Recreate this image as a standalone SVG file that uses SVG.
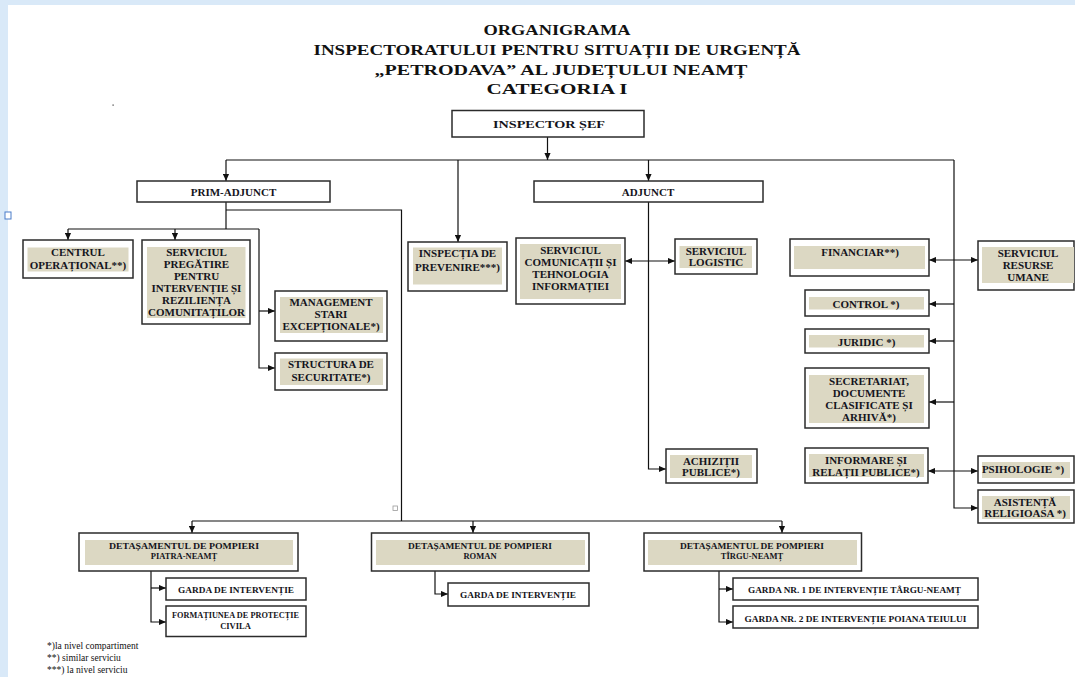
<svg xmlns="http://www.w3.org/2000/svg" width="1075" height="677" viewBox="0 0 1075 677">
<style>
.bx{fill:#fff;stroke:#2b2b2b;stroke-width:1.5}
.sh{fill:#dcd8c3}
.t{font-family:"Liberation Serif","Times New Roman",serif;font-weight:bold;font-size:11px;fill:#141420;text-anchor:middle}
.s{font-family:"Liberation Serif","Times New Roman",serif;font-weight:bold;font-size:8.5px;fill:#141420;text-anchor:middle}
.ti{font-family:"Liberation Serif","Times New Roman",serif;font-weight:bold;font-size:15px;fill:#111;text-anchor:middle}
.fn{font-family:"Liberation Serif","Times New Roman",serif;font-size:9.5px;fill:#111}
.c{fill:none;stroke:#111;stroke-width:1.2}
</style>
<defs>
<marker id="a" viewBox="0 0 8 8" refX="8" refY="4" markerWidth="7" markerHeight="7" markerUnits="userSpaceOnUse" orient="auto-start-reverse"><path d="M0,0.5 L8,4 L0,7.5 z" fill="#111"/></marker>
</defs>
<rect x="0" y="0" width="1075" height="677" fill="#d9e9f8"/>
<rect x="8" y="5" width="1067" height="672" fill="#fff"/>
<rect x="5" y="212" width="6" height="7" fill="#fff" stroke="#4a7cc9" stroke-width="1"/>
<rect x="112.5" y="104.5" width="1.2" height="1.2" fill="#333"/>
<rect x="393" y="506" width="4.5" height="4.5" fill="#fff" stroke="#999" stroke-width="0.8"/>

<g id="title">
<text class="ti" x="557" y="35" textLength="147" lengthAdjust="spacingAndGlyphs">ORGANIGRAMA</text>
<text class="ti" x="557" y="55" textLength="487" lengthAdjust="spacingAndGlyphs">INSPECTORATULUI PENTRU SITUAȚII DE URGENȚĂ</text>
<text class="ti" x="561" y="75" textLength="373" lengthAdjust="spacingAndGlyphs">„PETRODAVA” AL JUDEȚULUI NEAMȚ</text>
<text class="ti" x="557" y="94" textLength="141" lengthAdjust="spacingAndGlyphs">CATEGORIA I</text>
</g>

<g id="connectors">
<path class="c" d="M547.5,137 V160" marker-end="url(#a)"/>
<path class="c" d="M226,160 H954"/>
<path class="c" d="M226,160 V181" marker-end="url(#a)"/>
<path class="c" d="M458,160 V242" marker-end="url(#a)"/>
<path class="c" d="M648.5,160 V181" marker-end="url(#a)"/>
<path class="c" d="M954,160 V508 H978" marker-end="url(#a)"/>
<path class="c" d="M226,202 V229"/>
<path class="c" d="M68,229 H259"/>
<path class="c" d="M68,229 V240" marker-end="url(#a)"/>
<path class="c" d="M175,229 V240" marker-end="url(#a)"/>
<path class="c" d="M259,229 V368 H275" marker-end="url(#a)"/>
<path class="c" d="M259,311 H275" marker-end="url(#a)"/>
<path class="c" d="M226,210 H401.5 V521"/>
<path class="c" d="M192,521 H782"/>
<path class="c" d="M192,521 V533" marker-end="url(#a)"/>
<path class="c" d="M473,521 V533" marker-end="url(#a)"/>
<path class="c" d="M782,521 V533" marker-end="url(#a)"/>
<path class="c" d="M151,571 V622 H166" marker-end="url(#a)"/>
<path class="c" d="M151,588 H166" marker-end="url(#a)"/>
<path class="c" d="M435,571 V594 H448" marker-end="url(#a)"/>
<path class="c" d="M719,571 V622 H733" marker-end="url(#a)"/>
<path class="c" d="M719,589 H733" marker-end="url(#a)"/>
<path class="c" d="M648.5,202 V469 H666" marker-end="url(#a)"/>
<path class="c" d="M625,261 H675" marker-start="url(#a)" marker-end="url(#a)"/>
<path class="c" d="M929,260 H978" marker-start="url(#a)" marker-end="url(#a)"/>
<path class="c" d="M954,304 H929" marker-end="url(#a)"/>
<path class="c" d="M954,341 H929" marker-end="url(#a)"/>
<path class="c" d="M954,402 H929" marker-end="url(#a)"/>
<path class="c" d="M928,471 H978" marker-start="url(#a)" marker-end="url(#a)"/>
</g>

<g id="inspector-sef">
<rect class="bx" x="452" y="110.5" width="192" height="26.5"/>
<text class="t" x="549" y="128" font-size="13" textLength="112" lengthAdjust="spacingAndGlyphs">INSPECTOR ȘEF</text>
</g>
<g id="prim-adjunct">
<rect class="bx" x="137" y="181" width="193" height="21"/>
<text class="t" x="233.5" y="196">PRIM-ADJUNCT</text>
</g>
<g id="adjunct">
<rect class="bx" x="534" y="181" width="229" height="21"/>
<text class="t" x="648" y="196">ADJUNCT</text>
</g>
<g id="centrul-operational">
<rect class="bx" x="23" y="240" width="110" height="38"/>
<rect class="sh" x="27.5" y="247.5" width="101" height="24"/>
<text class="t" x="78" y="256">CENTRUL</text>
<text class="t" x="78" y="269">OPERAȚIONAL**)</text>
</g>
<g id="serviciul-pregatire">
<rect class="bx" x="142" y="240" width="108" height="84"/>
<rect class="sh" x="147" y="247" width="98.5" height="71"/>
<text class="t" x="196.5" y="256">SERVICIUL</text>
<text class="t" x="196.5" y="268">PREGĂTIRE</text>
<text class="t" x="196.5" y="280">PENTRU</text>
<text class="t" x="196.5" y="292">INTERVENȚIE ȘI</text>
<text class="t" x="196.5" y="304">REZILIENȚA</text>
<text class="t" x="196.5" y="316">COMUNITAȚILOR</text>
</g>
<g id="management">
<rect class="bx" x="275" y="291" width="112" height="50"/>
<rect class="sh" x="280" y="297" width="103" height="36"/>
<text class="t" x="331" y="306">MANAGEMENT</text>
<text class="t" x="331" y="318">STARI</text>
<text class="t" x="331" y="330">EXCEPȚIONALE*)</text>
</g>
<g id="structura-securitate">
<rect class="bx" x="275" y="353" width="112" height="37"/>
<rect class="sh" x="280" y="358.5" width="103" height="26.5"/>
<text class="t" x="331" y="368">STRUCTURA DE</text>
<text class="t" x="331" y="381">SECURITATE*)</text>
</g>
<g id="inspectia-prevenire">
<rect class="bx" x="408" y="242" width="99" height="49"/>
<rect class="sh" x="413" y="247.5" width="89" height="37"/>
<text class="t" x="457.5" y="257">INSPECȚIA DE</text>
<text class="t" x="457.5" y="271">PREVENIRE***)</text>
</g>
<g id="serviciul-comunicatii">
<rect class="bx" x="516" y="238" width="109" height="66"/>
<rect class="sh" x="520" y="244" width="101" height="55"/>
<text class="t" x="570.5" y="254">SERVICIUL</text>
<text class="t" x="570.5" y="265.5">COMUNICAȚII ȘI</text>
<text class="t" x="570.5" y="277.5">TEHNOLOGIA</text>
<text class="t" x="570.5" y="289.5">INFORMAȚIEI</text>
</g>
<g id="serviciul-logistic">
<rect class="bx" x="675" y="239" width="82" height="35"/>
<rect class="sh" x="679.5" y="246" width="72.5" height="22"/>
<text class="t" x="716" y="254.5">SERVICIUL</text>
<text class="t" x="716" y="266">LOGISTIC</text>
</g>
<g id="achizitii-publice">
<rect class="bx" x="666" y="449" width="91" height="34"/>
<rect class="sh" x="670" y="455" width="82" height="23"/>
<text class="t" x="711" y="464.5">ACHIZIȚII</text>
<text class="t" x="711" y="476">PUBLICE*)</text>
</g>
<g id="financiar">
<rect class="bx" x="790" y="239" width="139" height="37"/>
<rect class="sh" x="794" y="246" width="131" height="23"/>
<text class="t" x="860" y="256">FINANCIAR**)</text>
</g>
<g id="resurse-umane">
<rect class="bx" x="978" y="241" width="96" height="49"/>
<rect class="sh" x="982" y="247" width="92" height="36"/>
<text class="t" x="1028" y="256.5">SERVICIUL</text>
<text class="t" x="1028" y="268.5">RESURSE</text>
<text class="t" x="1028" y="280.5">UMANE</text>
</g>
<g id="control">
<rect class="bx" x="805" y="290" width="124" height="26"/>
<rect class="sh" x="809" y="297" width="115" height="12.5"/>
<text class="t" x="866" y="307.5">CONTROL *)</text>
</g>
<g id="juridic">
<rect class="bx" x="805" y="329" width="124" height="24"/>
<rect class="sh" x="809" y="335" width="115" height="12.5"/>
<text class="t" x="866.5" y="346">JURIDIC *)</text>
</g>
<g id="secretariat">
<rect class="bx" x="805" y="368" width="124" height="60"/>
<rect class="sh" x="809" y="375" width="115" height="48"/>
<text class="t" x="869" y="384.5">SECRETARIAT,</text>
<text class="t" x="869" y="396.7">DOCUMENTE</text>
<text class="t" x="869" y="409">CLASIFICATE ȘI</text>
<text class="t" x="869" y="421">ARHIVĂ*)</text>
</g>
<g id="informare">
<rect class="bx" x="805" y="448" width="123" height="35"/>
<rect class="sh" x="809" y="454" width="115" height="23"/>
<text class="t" x="866" y="464">INFORMARE ȘI</text>
<text class="t" x="866" y="475.5">RELAȚII PUBLICE*)</text>
</g>
<g id="psihologie">
<rect class="bx" x="978" y="456" width="96" height="27"/>
<rect class="sh" x="982" y="462" width="88" height="16"/>
<text class="t" x="1023" y="473">PSIHOLOGIE *)</text>
</g>
<g id="asistenta-religioasa">
<rect class="bx" x="978" y="490" width="96" height="33"/>
<rect class="sh" x="982" y="496" width="88" height="23"/>
<text class="t" x="1025" y="505.5">ASISTENȚĂ</text>
<text class="t" x="1025" y="516.5">RELIGIOASA *)</text>
</g>

<g id="det-piatra-neamt">
<rect class="bx" x="79" y="533" width="219" height="38"/>
<rect class="sh" x="85" y="540" width="208" height="25"/>
<text class="s" x="184" y="548.5" textLength="150" lengthAdjust="spacingAndGlyphs">DETAȘAMENTUL  DE POMPIERI</text>
<text class="s" x="184" y="559">PIATRA-NEAMȚ</text>
</g>
<g id="garda-piatra">
<rect class="bx" x="166" y="578" width="140" height="22"/>
<text class="s" x="236" y="592.5" textLength="116" lengthAdjust="spacingAndGlyphs">GARDA DE INTERVENȚIE</text>
</g>
<g id="formatiunea">
<rect class="bx" x="166" y="606" width="140" height="30.5"/>
<text class="s" x="235.5" y="618" textLength="127" lengthAdjust="spacingAndGlyphs">FORMAȚIUNEA DE PROTECȚIE</text>
<text class="s" x="235.5" y="628.5">CIVILA</text>
</g>
<g id="det-roman">
<rect class="bx" x="371.5" y="533" width="217.5" height="38"/>
<rect class="sh" x="376" y="540" width="209" height="25"/>
<text class="s" x="480" y="548.5" textLength="144" lengthAdjust="spacingAndGlyphs">DETAȘAMENTUL  DE POMPIERI</text>
<text class="s" x="480" y="558.5">ROMAN</text>
</g>
<g id="garda-roman">
<rect class="bx" x="448" y="583" width="141" height="23"/>
<text class="s" x="518" y="598" textLength="116" lengthAdjust="spacingAndGlyphs">GARDA DE INTERVENȚIE</text>
</g>
<g id="det-targu-neamt">
<rect class="bx" x="644" y="533" width="217.5" height="38"/>
<rect class="sh" x="648" y="540" width="209" height="25"/>
<text class="s" x="752" y="548.5" textLength="144" lengthAdjust="spacingAndGlyphs">DETAȘAMENTUL  DE POMPIERI</text>
<text class="s" x="752" y="558.5">TÎRGU-NEAMȚ</text>
</g>
<g id="garda-1">
<rect class="bx" x="733" y="578" width="245" height="22"/>
<text class="s" x="854.5" y="593" textLength="213" lengthAdjust="spacingAndGlyphs">GARDA NR. 1 DE INTERVENȚIE  TÂRGU-NEAMȚ</text>
</g>
<g id="garda-2">
<rect class="bx" x="733" y="606" width="245" height="22"/>
<text class="s" x="855.5" y="621.5" textLength="222" lengthAdjust="spacingAndGlyphs">GARDA NR. 2 DE INTERVENȚIE  POIANA TEIULUI</text>
</g>

<g id="footnotes">
<text class="fn" x="47" y="649">*)la nivel compartiment</text>
<text class="fn" x="47" y="661">**) similar serviciu</text>
<text class="fn" x="47" y="673">***) la nivel serviciu</text>
</g>
</svg>
